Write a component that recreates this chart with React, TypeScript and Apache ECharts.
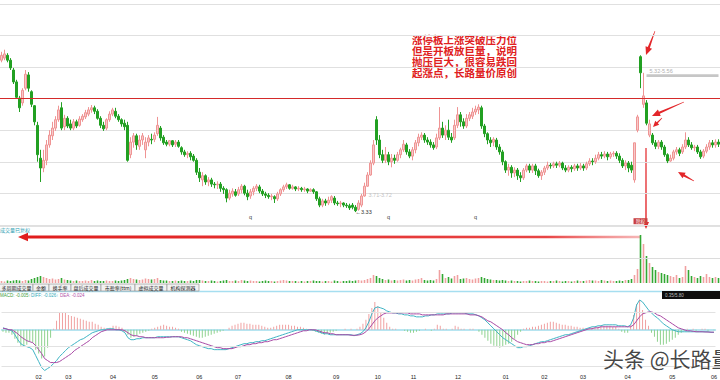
import React, { useEffect, useRef } from 'react';
import * as echarts from 'echarts';

// [open, close, low, high]
const CANDLES: number[][] = [
  [5.50,5.57,5.47,5.62],[5.53,5.59,5.50,5.65],[5.57,5.50,5.47,5.60],[5.50,5.39,5.36,5.53],[5.36,5.19,5.16,5.39],
  [5.19,4.97,4.95,5.22],[4.96,4.82,4.76,4.99],[4.89,5.07,4.85,5.10],[5.10,5.30,5.07,5.36],[5.29,5.10,5.05,5.33],
  [5.05,4.87,4.83,5.07],[4.85,4.62,4.57,4.86],[4.57,4.15,4.05,4.62],[4.10,3.96,3.76,4.22],[3.96,4.07,3.90,4.22],
  [4.07,4.29,4.00,4.36],[4.29,4.43,4.25,4.50],[4.42,4.53,4.36,4.62],[4.53,4.65,4.49,4.70],[4.65,4.79,4.62,4.85],
  [4.82,4.53,4.50,4.90],[4.55,4.67,4.50,4.72],[4.67,4.56,4.53,4.70],[4.59,4.53,4.50,4.65],[4.53,4.62,4.50,4.66],
  [4.62,4.56,4.53,4.65],[4.57,4.66,4.55,4.70],[4.65,4.70,4.62,4.73],[4.69,4.75,4.66,4.79],[4.73,4.79,4.70,4.83],
  [4.79,4.82,4.75,4.86],[4.82,4.77,4.73,4.85],[4.77,4.67,4.65,4.80],[4.67,4.57,4.53,4.70],[4.57,4.52,4.49,4.62],
  [4.53,4.65,4.50,4.67],[4.65,4.73,4.62,4.77],[4.73,4.79,4.70,4.82],[4.77,4.70,4.67,4.82],[4.70,4.65,4.62,4.73],
  [4.65,4.59,4.55,4.67],[4.60,4.55,4.50,4.65],[4.57,4.07,4.05,4.62],[4.15,4.33,4.10,4.40],[4.33,4.42,4.25,4.46],
  [4.42,4.29,4.22,4.45],[4.27,4.36,4.22,4.43],[4.36,4.42,4.29,4.46],[4.22,4.33,4.10,4.40],[4.33,4.39,4.27,4.43],
  [4.37,4.36,4.30,4.45],[4.37,4.43,4.33,4.47],[4.45,4.57,4.42,4.69],[4.53,4.39,4.35,4.56],[4.40,4.32,4.29,4.43],
  [4.33,4.30,4.27,4.36],[4.30,4.35,4.27,4.36],[4.35,4.29,4.26,4.36],[4.30,4.33,4.26,4.36],[4.33,4.27,4.25,4.36],
  [4.25,4.19,4.15,4.27],[4.19,4.15,4.12,4.22],[4.15,4.17,4.10,4.20],[4.17,4.12,4.07,4.20],[4.13,4.07,4.05,4.16],
  [4.07,3.90,3.86,4.10],[3.90,3.82,3.76,3.96],[3.79,3.85,3.70,3.90],[3.85,3.76,3.72,3.87],[3.76,3.79,3.70,3.83],
  [3.79,3.73,3.69,3.82],[3.73,3.72,3.67,3.76],[3.72,3.73,3.66,3.77],[3.73,3.67,3.62,3.76],[3.67,3.65,3.59,3.70],
  [3.65,3.53,3.47,3.67],[3.53,3.60,3.50,3.65],[3.59,3.63,3.55,3.67],[3.62,3.57,3.55,3.66],[3.59,3.65,3.56,3.69],
  [3.65,3.70,3.60,3.73],[3.70,3.60,3.57,3.72],[3.60,3.55,3.50,3.65],[3.56,3.62,3.52,3.66],[3.62,3.67,3.57,3.70],
  [3.67,3.70,3.63,3.73],[3.69,3.63,3.60,3.72],[3.63,3.59,3.56,3.66],[3.59,3.57,3.53,3.62],[3.57,3.55,3.52,3.60],
  [3.55,3.56,3.50,3.59],[3.55,3.52,3.46,3.57],[3.52,3.59,3.49,3.62],[3.59,3.65,3.56,3.67],[3.65,3.69,3.62,3.72],
  [3.69,3.72,3.66,3.75],[3.72,3.67,3.65,3.73],[3.67,3.69,3.65,3.72],[3.69,3.66,3.63,3.70],[3.66,3.67,3.63,3.70],
  [3.67,3.65,3.62,3.69],[3.65,3.66,3.62,3.69],[3.66,3.63,3.60,3.67],[3.63,3.65,3.62,3.67],[3.65,3.62,3.59,3.67],
  [3.62,3.52,3.49,3.63],[3.52,3.43,3.40,3.55],[3.43,3.49,3.40,3.52],[3.49,3.46,3.42,3.52],[3.46,3.50,3.43,3.55],
  [3.50,3.55,3.46,3.57],[3.53,3.46,3.43,3.56],[3.46,3.45,3.42,3.49],[3.45,3.46,3.40,3.49],[3.46,3.43,3.40,3.47],
  [3.43,3.42,3.39,3.46],[3.42,3.39,3.36,3.45],[3.43,3.40,3.37,3.46],[3.40,3.35,3.33,3.43],[3.37,3.46,3.35,3.50],
  [3.43,3.56,3.40,3.59],[3.56,3.70,3.55,3.75],[3.70,3.86,3.69,3.90],[3.86,4.03,3.85,4.07],[4.03,4.29,4.00,4.36],
  [4.65,4.36,4.29,4.70],[4.36,4.15,4.10,4.43],[4.15,4.07,4.03,4.22],[4.07,4.15,4.03,4.26],[4.15,4.05,4.00,4.19],
  [4.05,4.10,3.97,4.16],[4.10,4.07,4.02,4.15],[4.07,4.15,4.05,4.19],[4.15,4.22,4.10,4.25],[4.22,4.30,4.19,4.36],
  [4.29,4.19,4.15,4.32],[4.19,4.13,4.10,4.23],[4.13,4.22,4.07,4.26],[4.22,4.32,4.17,4.36],[4.32,4.40,4.27,4.45],
  [4.40,4.43,4.36,4.47],[4.43,4.36,4.32,4.46],[4.36,4.33,4.29,4.40],[4.33,4.29,4.25,4.37],[4.29,4.25,4.22,4.33],
  [4.26,4.39,4.23,4.45],[4.39,4.53,4.36,4.83],[4.53,4.43,4.39,4.62],[4.43,4.50,4.36,4.57],[4.50,4.40,4.36,4.65],
  [4.40,4.36,4.32,4.46],[4.39,4.57,4.36,4.65],[4.57,4.72,4.53,4.83],[4.72,4.62,4.55,4.76],[4.62,4.56,4.52,4.67],
  [4.56,4.67,4.53,4.73],[4.67,4.72,4.63,4.76],[4.70,4.76,4.66,4.82],[4.76,4.80,4.72,4.85],[4.79,4.83,4.73,4.87],
  [4.82,4.56,4.52,4.85],[4.56,4.45,4.40,4.59],[4.45,4.36,4.30,4.47],[4.36,4.32,4.26,4.40],[4.33,4.37,4.27,4.40],
  [4.36,4.26,4.22,4.39],[4.26,4.19,4.15,4.30],[4.19,4.05,4.00,4.22],[4.05,3.93,3.89,4.07],[3.93,3.97,3.85,4.02],
  [3.97,3.89,3.82,4.00],[3.89,3.93,3.83,3.97],[3.93,3.85,3.79,3.96],[3.85,3.82,3.76,3.90],[3.82,3.93,3.79,3.96],
  [3.93,3.99,3.90,4.02],[3.99,3.93,3.89,4.02],[3.93,3.99,3.89,4.02],[3.99,3.92,3.86,4.02],[3.92,3.85,3.82,3.95],
  [3.85,3.90,3.79,3.93],[3.90,3.96,3.86,3.99],[3.96,4.00,3.93,4.05],[4.00,3.99,3.95,4.03],[3.99,4.02,3.96,4.05],
  [4.02,4.00,3.96,4.05],[4.00,4.03,3.97,4.06],[4.03,3.96,3.93,4.05],[3.96,3.93,3.90,4.00],[3.93,3.97,3.90,4.00],
  [3.97,3.95,3.90,4.00],[3.95,3.99,3.92,4.02],[3.99,3.96,3.92,4.02],[3.96,3.99,3.93,4.03],[3.99,3.96,3.92,4.02],
  [3.96,4.02,3.93,4.05],[4.02,4.06,3.99,4.10],[4.06,4.05,4.00,4.10],[4.05,4.10,4.02,4.15],[4.10,4.15,4.07,4.19],
  [4.15,4.13,4.09,4.19],[4.13,4.16,4.10,4.20],[4.16,4.12,4.07,4.19],[4.12,4.16,4.09,4.19],[4.16,4.17,4.12,4.20],
  [4.17,4.13,4.09,4.20],[4.13,4.07,4.03,4.17],[4.07,3.99,3.96,4.10],[3.99,4.03,3.93,4.07],[4.03,3.96,3.90,4.06],
  [4.00,3.93,3.89,4.05],[3.79,4.32,3.75,4.32],[4.50,4.69,4.47,4.72],[5.55,5.32,5.10,5.57],[4.87,4.99,4.82,5.32],
  [4.89,4.60,4.57,4.93],[4.43,4.59,4.40,4.65],[4.43,4.32,4.29,4.46],[4.32,4.27,4.23,4.36],[4.27,4.33,4.23,4.36],
  [4.33,4.26,4.22,4.36],[4.26,4.15,4.12,4.29],[4.15,4.06,4.03,4.17],[4.06,4.10,4.05,4.15],[4.10,4.19,4.07,4.22],
  [4.19,4.22,4.15,4.26],[4.22,4.17,4.13,4.25],[4.19,4.26,4.16,4.30],[4.26,4.36,4.23,4.47],[4.36,4.29,4.26,4.40],
  [4.29,4.25,4.22,4.33],[4.25,4.26,4.20,4.29],[4.26,4.19,4.16,4.29],[4.19,4.12,4.09,4.22],[4.13,4.20,4.10,4.23],
  [4.20,4.26,4.17,4.30],[4.26,4.32,4.22,4.36],[4.32,4.29,4.25,4.36],[4.29,4.33,4.25,4.37],[4.33,4.30,4.26,4.37],
];

const VOLUMES: number[] = [
  4,3,5,4,5,6,5,4,6,5, 8,10,12,14,12, 10,8,9,7,8,10,7,6,
  5,4,5,4,4,5,4,6,4,5,4, 4,5,4,4,5,4,5,6,8, 10,8,7,6,7,9,8,7,8,10,
  6,5,5,4,4,5,4,5,4,4,5,4,6,6,
  5,4,4,5,4,3,4,5,6,4, 4,5,4,6,5,4,5,4,4,3, 4,5,4,4,3,4,5,6,5,4, 4,4,3,4,3,4,4,5,4,4, 3,4,4,3,5,4,3,4,4,5, 4,5,6,
  5,6,8,10,16, 14,10,8, 6,7,5,6,5,6,7,5,6,5,7,8,10, 6,5,6,5,8, 26, 18, 10,12,9,14,16,
  8,9,10,8,7,9,10,12,10,8,7,6,6,
  5,6,5,4,5,4,4,3,4,4, 5,4,4,3,4,4,3,4,4,5, 4,3,4,4,3,4,5,4,4,5, 6,5,5,4,6,5,4,5,4,4, 5,4,6,6,
  8,16,28,96,78,54,40,32,26,22, 20,18,16,14,12,16,10,12,34,26, 14,12,10,14,12,18,12,10,12,10,
];

const DIFF: number[] = [
  0.02,0.01,0.00,-0.01,-0.05,-0.10,-0.14,-0.16,-0.17,-0.18,
  -0.20,-0.26,-0.32,-0.38,-0.41,-0.39,-0.37,-0.34,-0.31,-0.27,
  -0.24,-0.21,-0.18,-0.16,-0.14,-0.12,-0.10,-0.09,-0.07,-0.05,
  -0.03,-0.02,-0.01,0.00,0.00,0.01,0.01,0.01,0.00,0.00,
  -0.01,-0.03,-0.08,-0.10,-0.10,-0.09,-0.09,-0.08,-0.08,-0.08,
  -0.08,-0.08,-0.07,-0.07,-0.07,-0.07,-0.07,-0.07,-0.07,-0.07,
  -0.08,-0.09,-0.10,-0.11,-0.13,-0.15,-0.16,-0.17,-0.18,-0.19,
  -0.19,-0.20,-0.20,-0.20,-0.20,-0.20,-0.19,-0.18,-0.17,-0.16,
  -0.15,-0.14,-0.14,-0.13,-0.13,-0.12,-0.12,-0.11,-0.11,-0.10,
  -0.09,-0.08,-0.07,-0.06,-0.05,-0.04,-0.03,-0.02,-0.01,0.00,
  0.00,0.00,0.00,0.00,0.00,-0.01,-0.02,-0.03,-0.04,-0.04,
  -0.05,-0.05,-0.05,-0.05,-0.05,-0.05,-0.05,-0.05,-0.06,-0.05,
  -0.04,-0.02,0.02,0.08,0.16,0.22,0.23,0.22,0.21,0.19,
  0.18,0.17,0.17,0.16,0.16,0.15,0.15,0.14,0.14,0.13,
  0.13,0.13,0.14,0.14,0.15,0.15,0.16,0.16,0.16,0.16,
  0.16,0.17,0.17,0.17,0.17,0.17,0.16,0.16,0.16,0.15,
  0.14,0.12,0.10,0.07,0.04,0.01,-0.02,-0.05,-0.08,-0.10,
  -0.12,-0.14,-0.16,-0.18,-0.18,-0.17,-0.17,-0.16,-0.15,-0.14,
  -0.13,-0.12,-0.12,-0.11,-0.10,-0.09,-0.08,-0.07,-0.06,-0.05,
  -0.05,-0.04,-0.03,-0.02,-0.01,0.00,0.01,0.02,0.03,0.03,
  0.04,0.04,0.05,0.05,0.05,0.05,0.05,0.04,0.04,0.04,
  0.03,0.05,0.12,0.25,0.30,0.28,0.24,0.20,0.17,0.14,
  0.12,0.09,0.06,0.04,0.02,0.00,-0.01,-0.02,-0.02,-0.02,
  -0.02,-0.02,-0.02,-0.02,-0.02,-0.02,-0.02,-0.02,-0.025,-0.026,
];

const DEA: number[] = [
  0.015,0.01,0.00,0.00,-0.02,-0.04,-0.07,-0.09,-0.11,-0.12,
  -0.13,-0.16,-0.20,-0.24,-0.29,-0.31,-0.33,-0.33,-0.33,-0.32,
  -0.30,-0.28,-0.26,-0.24,-0.21,-0.19,-0.17,-0.15,-0.13,-0.11,
  -0.08,-0.06,-0.04,-0.02,-0.01,0.00,0.00,0.00,0.00,0.00,
  0.00,-0.01,-0.03,-0.05,-0.06,-0.06,-0.07,-0.07,-0.08,-0.08,
  -0.08,-0.08,-0.08,-0.08,-0.08,-0.075,-0.075,-0.07,-0.07,-0.07,
  -0.07,-0.08,-0.08,-0.09,-0.10,-0.11,-0.12,-0.13,-0.14,-0.15,
  -0.16,-0.17,-0.18,-0.18,-0.19,-0.19,-0.19,-0.19,-0.18,-0.17,
  -0.17,-0.16,-0.15,-0.15,-0.14,-0.14,-0.13,-0.13,-0.12,-0.12,
  -0.11,-0.10,-0.10,-0.09,-0.08,-0.07,-0.06,-0.05,-0.04,-0.03,
  -0.02,-0.01,-0.01,0.00,0.00,0.00,-0.01,-0.02,-0.03,-0.03,
  -0.04,-0.04,-0.05,-0.05,-0.05,-0.05,-0.05,-0.055,-0.055,-0.055,
  -0.05,-0.04,-0.02,0.01,0.05,0.09,0.12,0.14,0.16,0.17,
  0.17,0.17,0.17,0.17,0.17,0.17,0.17,0.16,0.16,0.16,
  0.16,0.15,0.15,0.15,0.15,0.15,0.15,0.15,0.15,0.16,
  0.16,0.16,0.16,0.16,0.16,0.16,0.16,0.15,0.15,0.15,
  0.14,0.13,0.11,0.09,0.08,0.06,0.04,0.02,0.00,-0.03,
  -0.05,-0.08,-0.10,-0.12,-0.13,-0.14,-0.15,-0.15,-0.15,-0.14,
  -0.14,-0.13,-0.13,-0.12,-0.12,-0.11,-0.10,-0.09,-0.08,-0.07,
  -0.06,-0.05,-0.04,-0.03,-0.02,-0.01,0.00,0.01,0.01,0.02,
  0.02,0.03,0.03,0.03,0.03,0.03,0.03,0.03,0.03,0.03,
  0.03,0.03,0.05,0.09,0.13,0.16,0.17,0.18,0.18,0.17,
  0.15,0.14,0.12,0.10,0.08,0.06,0.04,0.02,0.01,0.00,
  -0.01,-0.01,-0.015,-0.02,-0.02,-0.02,-0.022,-0.023,-0.024,-0.024,
];

const MACD_HIST: number[] = [
  -0.02,-0.03,-0.03,-0.05,-0.09,-0.13,-0.16,-0.17,-0.15,-0.12,
  -0.13,-0.20,-0.24,-0.29,-0.27,-0.18,-0.08,0.01,0.09,0.17,
  0.18,0.17,0.15,0.14,0.13,0.12,0.11,0.10,0.09,0.08,
  0.08,0.06,0.05,0.03,0.02,0.01,0.02,0.04,0.04,0.03,
  0.02,-0.02,-0.05,-0.08,-0.07,-0.06,-0.04,-0.03,-0.02,-0.01,
  0.01,0.02,0.03,0.04,0.05,0.04,0.03,0.03,0.02,0.01,
  -0.02,-0.03,-0.04,-0.05,-0.06,-0.07,-0.08,-0.08,-0.07,-0.06,
  -0.05,-0.04,-0.03,-0.02,-0.01,0.00,0.02,0.04,0.05,0.06,
  0.07,0.07,0.06,0.06,0.05,0.05,0.05,0.04,0.03,0.02,
  0.02,0.03,0.04,0.05,0.05,0.05,0.05,0.04,0.04,0.03,
  0.03,0.02,0.01,0.00,-0.01,-0.02,-0.03,-0.04,-0.05,-0.04,
  -0.03,-0.02,-0.01,0.00,0.00,0.01,0.00,0.01,0.00,0.01,
  0.03,0.06,0.10,0.16,0.22,0.28,0.24,0.18,0.12,0.07,
  0.03,0.01,0.01,0.00,0.00,-0.01,-0.02,-0.03,-0.03,-0.02,
  -0.01,0.00,0.01,0.00,-0.01,0.01,0.05,0.04,0.01,0.01,
  0.00,0.01,0.04,0.03,0.01,0.01,0.00,0.01,0.01,0.00,
  -0.02,-0.05,-0.08,-0.11,-0.14,-0.16,-0.17,-0.18,-0.17,-0.15,
  -0.14,-0.12,-0.09,-0.05,-0.02,0.01,0.02,0.02,0.03,0.03,
  0.04,0.05,0.06,0.07,0.08,0.08,0.07,0.06,0.05,0.05,
  0.04,0.04,0.03,0.03,0.02,0.02,0.01,0.01,0.02,0.02,
  0.03,0.04,0.04,0.04,0.04,0.03,0.03,0.01,-0.02,-0.03,
  -0.03,0.05,0.15,0.26,0.30,0.20,0.10,0.04,-0.03,-0.07,
  -0.12,-0.15,-0.15,-0.14,-0.12,-0.10,-0.08,-0.05,-0.03,-0.01,
  0.01,0.00,0.01,-0.01,0.00,0.01,0.01,-0.01,0.00,-0.005,
];

// [candle index, month label]
const MONTH_TICKS: [number, string][] = [
  [12, '02'], [22, '03'], [37, '04'], [51, '05'], [66, '06'], [79, '07'], [96, '08'], [112, '09'],
  [126, '10'], [138, '11'], [153, '12'], [169, '01'], [182, '02'], [195, '03'], [210, '04'], [225, '05'], [239, '06'],
];

const PRICE_MIN = 3.1457;
const PRICE_MAX = 6.3029;
const RESISTANCE_PRICE = 4.96;
const Q_MARK_INDEXES = [83, 129, 158];
const Q_MARK_PRICE = 3.26;
const LOW_MARK = { index: 118, price: 3.33, text: '←3.33' };
const GAP_LOW_MARK = { index: 122, price: 3.57, text: '3.71-3.72' };
const GAP_HIGH = { from: 215, to: 239, top: 5.30, bottom: 5.26, text: '5.32-5.56' };
const EVENT_MARK = { index: 213, price: 3.20, text: '除权' };
const VOL_MAX = 114;
const VOL_GRID_LINES = [50];
const MACD_MIN = -0.42;
const MACD_MAX = 0.32;
const MACD_GRID_LINES = [0.18, -0.17, -0.37];
const MACD_LAST = { macd: '-0.005', diff: '-0.026', dea: '-0.024' };
const TABS = ['多周期成交量', '金额', '换手率', '盘后成交量', '市盈率(ttm)', '虚拟成交量', '机构探测器'];
const NOTE_LINES = ['涨停板上涨突破压力位', '但是开板放巨量，说明', '抛压巨大，很容易跌回', '起涨点，长路量价原创'];
const WATERMARK = '头条 @长路量价';

function arrowPoints(x1: number, y1: number, x2: number, y2: number, tailW: number, shaftW: number, headLen: number, headHalf: number) {
  const dx = x2 - x1, dy = y2 - y1;
  const L = Math.hypot(dx, dy);
  const ux = dx / L, uy = dy / L;
  const nx = -uy, ny = ux;
  const bx = x2 - ux * headLen, by = y2 - uy * headLen;
  return [
    [x1 + nx * tailW / 2, y1 + ny * tailW / 2],
    [bx + nx * shaftW / 2, by + ny * shaftW / 2],
    [bx + nx * headHalf, by + ny * headHalf],
    [x2, y2],
    [bx - nx * headHalf, by - ny * headHalf],
    [bx - nx * shaftW / 2, by - ny * shaftW / 2],
    [x1 - nx * tailW / 2, y1 - ny * tailW / 2],
  ];
}

export default function App() {
  const ref = useRef<HTMLDivElement>(null);
  useEffect(() => {
    if (!ref.current) return;
    const chart = echarts.init(ref.current, undefined, { renderer: 'svg' });
    const categories = CANDLES.map((_, i) => String(i));
    const tickMap: Record<number, string> = {};
    MONTH_TICKS.forEach(([i, l]) => { tickMap[i] = l; });

    const UP = '#ef9494', UP_FILL = '#f7c9c9', DOWN = '#22a022';
    const RED = '#e3262a';

    const volData = VOLUMES.map((v, i) => ({
      value: v,
      itemStyle: { color: CANDLES[i][1] >= CANDLES[i][0] ? '#f0a0a0' : '#33a833' },
    }));
    const histData = MACD_HIST.map((v) => ({
      value: v,
      itemStyle: { color: v >= 0 ? '#f0a2a2' : '#8fd28f' },
    }));

    const tabXs = [-3, 33, 49, 71, 101, 135, 167, 199];
    const tabEls: any[] = [];
    TABS.forEach((t, i) => {
      const x0 = tabXs[i], x1 = tabXs[i + 1];
      tabEls.push({ type: 'rect', shape: { x: x0, y: 284, width: x1 - x0, height: 7 }, style: { fill: '#f2f2f2', stroke: '#9a9a9a', lineWidth: 0.7 }, silent: true });
      tabEls.push({ type: 'text', x: (Math.max(x0, 0) + x1) / 2, y: 287.7, style: { text: t, fill: '#222', fontSize: 5, fontFamily: 'Noto Sans CJK SC', textAlign: 'center', textVerticalAlign: 'middle' }, silent: true });
    });

    const noteEls = NOTE_LINES.map((line, i) => ({
      type: 'text', x: 412, y: 39.5 + i * 11,
      style: { text: line, fill: '#e02020', fontSize: 10.5, fontWeight: 'bold', fontFamily: 'Noto Sans CJK SC', textAlign: 'left', textVerticalAlign: 'middle' },
      silent: true,
    }));

    const arrowFill = RED;
    const option: any = {
      animation: false,
      backgroundColor: '#ffffff',
      textStyle: { fontFamily: "'Liberation Sans', 'Noto Sans CJK SC', sans-serif" },
      grid: [
        { left: 0, right: 0, top: 4, height: 221 },
        { left: 0, right: 0, top: 226, height: 57 },
        { left: 0, right: 0, top: 298, height: 74 },
      ],
      xAxis: [
        { type: 'category', gridIndex: 0, data: categories, boundaryGap: true, show: false },
        { type: 'category', gridIndex: 1, data: categories, boundaryGap: true, show: false },
        {
          type: 'category', gridIndex: 2, data: categories, boundaryGap: true,
          axisLine: { show: true, lineStyle: { color: '#9fdcec', width: 1.5 } },
          axisTick: { show: false },
          axisLabel: {
            interval: 0, margin: 3, fontSize: 5.5, color: '#222',
            formatter: (_v: string, idx: number) => tickMap[idx] || '',
          },
          splitLine: { show: false },
        },
      ],
      yAxis: [
        { type: 'value', gridIndex: 0, min: PRICE_MIN, max: PRICE_MAX, show: false, scale: true },
        {
          type: 'value', gridIndex: 0, min: 0, max: 7, interval: 1,
          axisLine: { show: false }, axisTick: { show: false }, axisLabel: { show: false },
          splitLine: { show: true, lineStyle: { color: '#e0e0e0', width: 1 } },
        },
        { type: 'value', gridIndex: 1, min: 0, max: VOL_MAX, show: false },
        { type: 'value', gridIndex: 2, min: MACD_MIN, max: MACD_MAX, show: false },
      ],
      series: [
        {
          type: 'candlestick', xAxisIndex: 0, yAxisIndex: 0, data: CANDLES, barWidth: 2,
          itemStyle: { color: UP_FILL, color0: DOWN, borderColor: UP, borderColor0: DOWN, borderWidth: 1 },
          markLine: {
            silent: true, symbol: 'none', label: { show: false },
            lineStyle: { color: '#d42a2a', width: 1.2, type: 'solid' },
            data: [{ yAxis: RESISTANCE_PRICE }],
          },
          markArea: {
            silent: true,
            itemStyle: { color: '#c6c6c6' },
            label: { show: true, position: [3, -6], formatter: GAP_HIGH.text, color: '#b0b0b0', fontSize: 5.5 },
            data: [[{ xAxis: GAP_HIGH.from, yAxis: GAP_HIGH.top }, { xAxis: GAP_HIGH.to, yAxis: GAP_HIGH.bottom }]],
          },
          markPoint: {
            silent: true,
            data: [
              ...Q_MARK_INDEXES.map((i) => ({
                coord: [i, Q_MARK_PRICE], symbol: 'circle', symbolSize: 0,
                label: { show: true, position: 'inside', formatter: 'q', color: '#444', fontSize: 5.5 },
              })),
              {
                coord: [LOW_MARK.index, LOW_MARK.price], symbol: 'circle', symbolSize: 0,
                label: { show: true, position: 'right', distance: 0, formatter: LOW_MARK.text, color: '#333', fontSize: 5.5 },
              },
              {
                coord: [GAP_LOW_MARK.index, GAP_LOW_MARK.price], symbol: 'circle', symbolSize: 0,
                label: { show: true, position: 'right', distance: 1, formatter: GAP_LOW_MARK.text, color: '#c2c2c2', fontSize: 5.5 },
              },
              {
                coord: [EVENT_MARK.index, EVENT_MARK.price], symbol: 'rect', symbolSize: [14, 6],
                itemStyle: { color: '#c94040' },
                label: { show: true, position: 'inside', formatter: EVENT_MARK.text, color: '#fff', fontSize: 4.5 },
              },
            ],
          },
          z: 3,
        },
        {
          type: 'bar', xAxisIndex: 1, yAxisIndex: 2, data: volData, barWidth: 1.6,
          markLine: {
            silent: true, symbol: 'none', label: { show: false },
            lineStyle: { color: '#dcdcdc', width: 1, type: 'solid' },
            data: VOL_GRID_LINES.map((v) => ({ yAxis: v })),
          },
        },
        {
          type: 'bar', xAxisIndex: 2, yAxisIndex: 3, data: histData, barWidth: 1,
          markLine: {
            silent: true, symbol: 'none', label: { show: false },
            lineStyle: { color: '#e2e2e2', width: 1, type: 'solid' },
            data: MACD_GRID_LINES.map((v) => ({ yAxis: v })),
          },
        },
        {
          type: 'line', xAxisIndex: 2, yAxisIndex: 3, data: DIFF, symbol: 'none',
          lineStyle: { color: '#3fb4c4', width: 1 }, z: 4,
        },
        {
          type: 'line', xAxisIndex: 2, yAxisIndex: 3, data: DEA, symbol: 'none',
          lineStyle: { color: '#a94aa5', width: 1 }, z: 4,
        },
      ],
      graphic: [
        { type: 'line', shape: { x1: 0, y1: 226, x2: 720, y2: 226 }, style: { stroke: '#c4c4c4', lineWidth: 1 }, silent: true },
        ...noteEls,
        { type: 'polygon', shape: { points: arrowPoints(655, 31, 646, 55, 0.6, 2.2, 8, 3.5) }, style: { fill: arrowFill }, silent: true },
        { type: 'polygon', shape: { points: arrowPoints(684, 102, 652, 116, 0.6, 2.2, 8, 3.5) }, style: { fill: arrowFill }, silent: true },
        { type: 'polygon', shape: { points: arrowPoints(662, 118, 653, 127, 0.6, 1.6, 6, 2.8) }, style: { fill: arrowFill }, silent: true },
        { type: 'polygon', shape: { points: arrowPoints(694, 181, 678, 172, 0.6, 2.2, 7, 3.2) }, style: { fill: arrowFill }, silent: true },
        { type: 'polygon', shape: { points: arrowPoints(646, 148, 646, 229, 1.2, 1.4, 7, 3) }, style: { fill: arrowFill }, silent: true },
        {
          type: 'polygon', shape: { points: arrowPoints(640, 237, 18, 237, 2.4, 3, 10, 4.2) },
          style: {
            fill: new echarts.graphic.LinearGradient(0, 0, 1, 0, [
              { offset: 0, color: '#e01c1c' },
              { offset: 0.85, color: '#e84545' },
              { offset: 1, color: 'rgba(242,150,150,0.7)' },
            ]),
          },
          silent: true,
        },
        {
          type: 'text', x: 0, y: 229.5,
          style: { text: '成交量已复权', fill: '#2a9bb0', fontSize: 5, fontFamily: 'Noto Sans CJK SC', textAlign: 'left', textVerticalAlign: 'middle' },
          silent: true,
        },
        { type: 'line', shape: { x1: 0, y1: 291.5, x2: 720, y2: 291.5 }, style: { stroke: '#a6def0', lineWidth: 1.5 }, silent: true },
        ...tabEls,
        { type: 'rect', shape: { x: 662, y: 291, width: 60, height: 8 }, style: { fill: '#0e0e0e' }, silent: true },
        { type: 'text', x: 665, y: 295, style: { text: '0.35/5.80', fill: '#bdbdbd', fontSize: 4.5, textAlign: 'left', textVerticalAlign: 'middle' }, silent: true },
        { type: 'text', x: 0, y: 295.7, style: { text: 'MACD: ' + MACD_LAST.macd + '↑', fill: '#3c9c3c', fontSize: 4.5, textAlign: 'left', textVerticalAlign: 'middle' }, silent: true },
        { type: 'text', x: 31, y: 295.7, style: { text: 'DIFF: ' + MACD_LAST.diff + '↑', fill: '#2fa8b8', fontSize: 4.5, textAlign: 'left', textVerticalAlign: 'middle' }, silent: true },
        { type: 'text', x: 60, y: 295.7, style: { text: 'DEA: ' + MACD_LAST.dea, fill: '#b050a8', fontSize: 4.5, textAlign: 'left', textVerticalAlign: 'middle' }, silent: true },
        {
          type: 'text', x: 603, y: 358,
          style: { text: WATERMARK, fill: 'rgba(45,45,45,0.88)', fontSize: 21, fontFamily: 'Noto Sans CJK SC', textAlign: 'left', textVerticalAlign: 'middle' },
          silent: true, z: 100,
        },
      ],
    };
    chart.setOption(option);
    return () => chart.dispose();
  }, []);
  return <div ref={ref} style={{ position: 'absolute', left: 0, top: 0, width: 720, height: 380, background: '#fff' }} />;
}
